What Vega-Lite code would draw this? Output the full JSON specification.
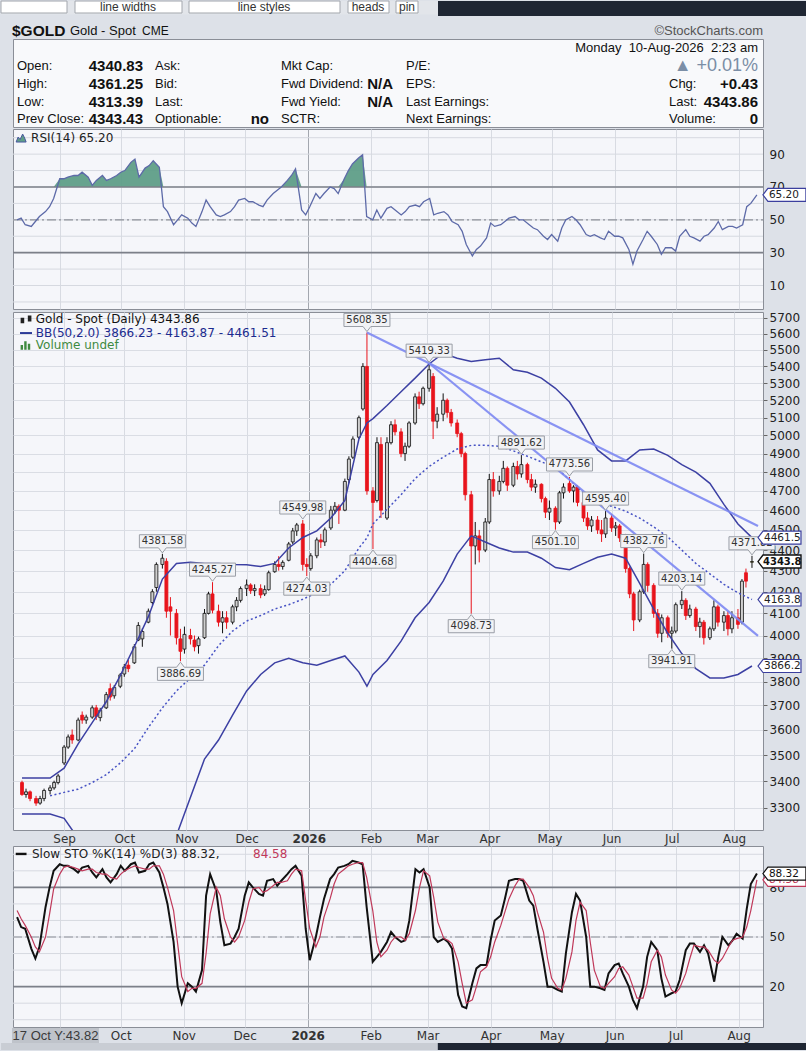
{
  "$schema": "https://vega.github.io/schema/vega-lite/v6.json",
  "background": "#dde1e8",
  "padding": 0,
  "spacing": 0,
  "config": {
    "view": {"stroke": "#8a8e97", "fill": "#f5f6fa", "strokeWidth": 1},
    "axis": {"labelFont": "DejaVu Sans", "labelFontSize": 12, "labelColor": "#222", "domain": false, "ticks": false, "gridColor": "#dadde4", "title": null},
    "text": {"font": "DejaVu Sans"}
  },
  "datasets": {
    "tool": [
      {"col": 0, "col2": 24, "row": -2.55, "row2": -1.8, "k": "strip"},
      {"col": 24, "col2": 28, "row": -2.55, "row2": -1.72, "k": "dark"},
      {"col": 0, "col2": 3, "row": -2.55, "row2": -1.885, "k": "box"},
      {"col": 5, "col2": 10, "row": -2.55, "row2": -1.885, "k": "box"},
      {"col": 11, "col2": 15, "row": -2.55, "row2": -1.885, "k": "box"},
      {"col": 16, "col2": 18, "row": -2.55, "row2": -1.885, "k": "box"},
      {"col": 20, "col2": 23, "row": -2.55, "row2": -1.885, "k": "box"}
    ],
    "hdr": [
      {"col": 6, "row": -2.22, "t": "line widths", "k": "tool"},
      {"col": 12, "row": -2.22, "t": "line styles", "k": "tool"},
      {"col": 17, "row": -2.22, "t": "heads", "k": "tool"},
      {"col": 22, "row": -2.22, "t": "pin", "k": "tool"},
      {"col": 1, "row": -0.86, "t": "$GOLD", "k": "sym"},
      {"col": 4, "row": -0.86, "t": "Gold - Spot", "k": "name"},
      {"col": 7, "row": -0.86, "t": "CME", "k": "exch"},
      {"col": 27, "row": -0.86, "t": "©StockCharts.com", "k": "brand"},
      {"col": 26, "row": 0.05, "t": "Monday\u00a0 10-Aug-2026\u00a0 2:23 am", "k": "date"},
      {"col": 26, "row": 1.05, "t": "▲ +0.01%", "k": "pct"},
      {"col": 2, "row": 1.05, "t": "Open:", "k": "lab"},
      {"col": 8, "row": 1.05, "t": "4340.83", "k": "val"},
      {"col": 9, "row": 1.05, "t": "Ask:", "k": "lab"},
      {"col": 14, "row": 1.05, "t": "Mkt Cap:", "k": "lab"},
      {"col": 21, "row": 1.05, "t": "P/E:", "k": "lab"},
      {"col": 2, "row": 2.05, "t": "High:", "k": "lab"},
      {"col": 8, "row": 2.05, "t": "4361.25", "k": "val"},
      {"col": 9, "row": 2.05, "t": "Bid:", "k": "lab"},
      {"col": 14, "row": 2.05, "t": "Fwd Dividend:", "k": "lab"},
      {"col": 19, "row": 2.05, "t": "N/A", "k": "val"},
      {"col": 21, "row": 2.05, "t": "EPS:", "k": "lab"},
      {"col": 25, "row": 2.05, "t": "Chg:", "k": "lab"},
      {"col": 26, "row": 2.05, "t": "+0.43", "k": "val"},
      {"col": 2, "row": 3.05, "t": "Low:", "k": "lab"},
      {"col": 8, "row": 3.05, "t": "4313.39", "k": "val"},
      {"col": 9, "row": 3.05, "t": "Last:", "k": "lab"},
      {"col": 14, "row": 3.05, "t": "Fwd Yield:", "k": "lab"},
      {"col": 19, "row": 3.05, "t": "N/A", "k": "val"},
      {"col": 21, "row": 3.05, "t": "Last Earnings:", "k": "lab"},
      {"col": 25, "row": 3.05, "t": "Last:", "k": "lab"},
      {"col": 26, "row": 3.05, "t": "4343.86", "k": "val"},
      {"col": 2, "row": 4.0, "t": "Prev Close:", "k": "lab"},
      {"col": 8, "row": 4.0, "t": "4343.43", "k": "val"},
      {"col": 9, "row": 4.0, "t": "Optionable:", "k": "lab"},
      {"col": 13, "row": 4.0, "t": "no", "k": "val"},
      {"col": 14, "row": 4.0, "t": "SCTR:", "k": "lab"},
      {"col": 21, "row": 4.0, "t": "Next Earnings:", "k": "lab"},
      {"col": 25, "row": 4.0, "t": "Volume:", "k": "lab"},
      {"col": 26, "row": 4.0, "t": "0", "k": "val"}
    ],
    "grid": [{"v": 0}, {"v": 10}, {"v": 20}, {"v": 30}, {"v": 40}, {"v": 50}, {"v": 60}, {"v": 70}, {"v": 80}, {"v": 90}, {"v": 100}],
    "lvR": [{"v": 70}, {"v": 30}],
    "lvS": [{"v": 80}, {"v": 20}],
    "mid": [{"v": 50}],
    "legM": [
      {"v": 5693, "t": "Gold - Spot (Daily) 4343.86", "g": "p"},
      {"v": 5605, "t": "BB(50,2.0) 3866.23 - 4163.87 - 4461.51", "g": "b"},
      {"v": 5531, "t": "Volume undef", "g": "v"}
    ],
    "legR": [{"v": 99.8, "t": "RSI(14) 65.20"}],
    "legS": [
      {"v": 100.2, "t": "Slow STO %K(14) %D(3) 88.32,", "g": "k"},
      {"v": 100.2, "t": "84.58", "g": "d"}
    ],
    "rd": [{"a": -5.0, "b": -14.07, "v": -9.6, "t": "17 Oct Y:43.82"}],
    "bot": [{"a": -14.1, "b": -18.3}],
    "px": [
      {"d":"2025-08-11","o":3395,"h":3402,"l":3345,"c":3350,"r":50,"ra":70,"k":62,"sd":66},
      {"d":"2025-08-13","o":3350,"h":3372,"l":3338,"c":3360,"r":51,"ra":70,"k":56,"sd":61},
      {"d":"2025-08-15","o":3360,"h":3365,"l":3325,"c":3335,"r":47,"ra":70,"k":55,"sd":57},
      {"d":"2025-08-18","o":3335,"h":3345,"l":3308,"c":3318,"r":46,"ra":70,"k":43,"sd":50},
      {"d":"2025-08-20","o":3318,"h":3345,"l":3312,"c":3335,"r":49,"ra":70,"k":37,"sd":44},
      {"d":"2025-08-22","o":3335,"h":3372,"l":3325,"c":3365,"r":52,"ra":70,"k":44,"sd":41},
      {"d":"2025-08-25","o":3365,"h":3385,"l":3350,"c":3375,"r":55,"ra":70,"k":68,"sd":50},
      {"d":"2025-08-27","o":3375,"h":3402,"l":3368,"c":3395,"r":58,"ra":70,"k":80,"sd":64},
      {"d":"2025-08-29","o":3395,"h":3428,"l":3388,"c":3420,"r":63,"ra":70,"k":90,"sd":79},
      {"d":"2025-09-01","o":3470,"h":3540,"l":3462,"c":3532,"r":75,"ra":75,"k":94,"sd":88},
      {"d":"2025-09-03","o":3532,"h":3582,"l":3525,"c":3572,"r":75,"ra":75,"k":93,"sd":92},
      {"d":"2025-09-05","o":3580,"h":3602,"l":3545,"c":3560,"r":76,"ra":76,"k":93,"sd":93},
      {"d":"2025-09-08","o":3560,"h":3650,"l":3555,"c":3640,"r":77,"ra":77,"k":91,"sd":92},
      {"d":"2025-09-10","o":3660,"h":3675,"l":3625,"c":3640,"r":77,"ra":77,"k":89,"sd":91},
      {"d":"2025-09-12","o":3640,"h":3662,"l":3625,"c":3652,"r":79,"ra":79,"k":92,"sd":90},
      {"d":"2025-09-15","o":3652,"h":3700,"l":3645,"c":3690,"r":76,"ra":76,"k":93,"sd":91},
      {"d":"2025-09-17","o":3690,"h":3702,"l":3640,"c":3655,"r":71,"ra":71,"k":89,"sd":91},
      {"d":"2025-09-19","o":3650,"h":3690,"l":3635,"c":3680,"r":74,"ra":74,"k":86,"sd":89},
      {"d":"2025-09-22","o":3690,"h":3756,"l":3685,"c":3745,"r":77,"ra":77,"k":91,"sd":88},
      {"d":"2025-09-24","o":3770,"h":3792,"l":3720,"c":3735,"r":74,"ra":74,"k":86,"sd":88},
      {"d":"2025-09-26","o":3740,"h":3785,"l":3728,"c":3775,"r":75,"ra":75,"k":83,"sd":86},
      {"d":"2025-09-29","o":3780,"h":3836,"l":3772,"c":3828,"r":77,"ra":77,"k":88,"sd":85},
      {"d":"2025-10-01","o":3832,"h":3875,"l":3820,"c":3862,"r":79,"ra":79,"k":93,"sd":88},
      {"d":"2025-10-03","o":3870,"h":3892,"l":3840,"c":3855,"r":80,"ra":80,"k":90,"sd":90},
      {"d":"2025-10-06","o":3880,"h":3962,"l":3875,"c":3950,"r":85,"ra":85,"k":94,"sd":92},
      {"d":"2025-10-08","o":3980,"h":4060,"l":3975,"c":4045,"r":87,"ra":87,"k":95,"sd":93},
      {"d":"2025-10-10","o":3985,"h":4032,"l":3950,"c":4018,"r":76,"ra":76,"k":89,"sd":92},
      {"d":"2025-10-13","o":4060,"h":4122,"l":4055,"c":4110,"r":81.5,"ra":81.5,"k":90,"sd":91},
      {"d":"2025-10-15","o":4150,"h":4212,"l":4140,"c":4200,"r":83,"ra":83,"k":94,"sd":91},
      {"d":"2025-10-17","o":4220,"h":4340,"l":4200,"c":4330,"r":86,"ra":86,"k":95,"sd":93},
      {"d":"2025-10-20","o":4330,"h":4381.58,"l":4310,"c":4360,"r":82,"ra":82,"k":89,"sd":93},
      {"d":"2025-10-22","o":4345,"h":4360,"l":4080,"c":4110,"r":58,"ra":70,"k":80,"sd":88},
      {"d":"2025-10-24","o":4130,"h":4175,"l":4000,"c":4110,"r":55,"ra":70,"k":70,"sd":80},
      {"d":"2025-10-27","o":4100,"h":4120,"l":3960,"c":3990,"r":47,"ra":70,"k":47,"sd":66},
      {"d":"2025-10-29","o":3985,"h":4030,"l":3886.69,"c":3930,"r":50,"ra":70,"k":20,"sd":46},
      {"d":"2025-10-31","o":3940,"h":4040,"l":3920,"c":4005,"r":53,"ra":70,"k":10,"sd":26},
      {"d":"2025-11-03","o":4000,"h":4030,"l":3960,"c":3985,"r":51,"ra":70,"k":22,"sd":17},
      {"d":"2025-11-05","o":3980,"h":4000,"l":3930,"c":3950,"r":48,"ra":70,"k":20,"sd":19},
      {"d":"2025-11-07","o":3955,"h":3995,"l":3920,"c":3985,"r":46,"ra":70,"k":17,"sd":19},
      {"d":"2025-11-10","o":3990,"h":4120,"l":3985,"c":4100,"r":55,"ra":70,"k":30,"sd":22},
      {"d":"2025-11-12","o":4100,"h":4200,"l":4095,"c":4190,"r":62,"ra":70,"k":75,"sd":40},
      {"d":"2025-11-14","o":4190,"h":4245.27,"l":4100,"c":4115,"r":58,"ra":70,"k":88,"sd":64},
      {"d":"2025-11-17","o":4110,"h":4140,"l":4040,"c":4060,"r":53,"ra":70,"k":78,"sd":80},
      {"d":"2025-11-19","o":4060,"h":4110,"l":4010,"c":4080,"r":52,"ra":70,"k":59,"sd":75},
      {"d":"2025-11-21","o":4080,"h":4110,"l":4030,"c":4060,"r":53,"ra":70,"k":45,"sd":61},
      {"d":"2025-11-24","o":4060,"h":4140,"l":4050,"c":4130,"r":55,"ra":70,"k":46,"sd":50},
      {"d":"2025-11-26","o":4130,"h":4175,"l":4110,"c":4160,"r":58,"ra":70,"k":50,"sd":47},
      {"d":"2025-11-28","o":4160,"h":4225,"l":4150,"c":4215,"r":62,"ra":70,"k":55,"sd":50},
      {"d":"2025-12-01","o":4215,"h":4258,"l":4180,"c":4232,"r":63,"ra":70,"k":75,"sd":60},
      {"d":"2025-12-03","o":4232,"h":4240,"l":4190,"c":4205,"r":61,"ra":70,"k":83,"sd":71},
      {"d":"2025-12-05","o":4205,"h":4235,"l":4180,"c":4215,"r":61,"ra":70,"k":80,"sd":79},
      {"d":"2025-12-08","o":4215,"h":4235,"l":4170,"c":4185,"r":59,"ra":70,"k":76,"sd":80},
      {"d":"2025-12-10","o":4190,"h":4230,"l":4180,"c":4210,"r":58,"ra":70,"k":75,"sd":77},
      {"d":"2025-12-12","o":4210,"h":4300,"l":4205,"c":4290,"r":62,"ra":70,"k":84,"sd":78},
      {"d":"2025-12-15","o":4295,"h":4345,"l":4290,"c":4330,"r":66,"ra":70,"k":85,"sd":81},
      {"d":"2025-12-17","o":4330,"h":4370,"l":4300,"c":4320,"r":68,"ra":70,"k":81,"sd":83},
      {"d":"2025-12-19","o":4320,"h":4350,"l":4305,"c":4340,"r":70,"ra":70,"k":84,"sd":83},
      {"d":"2025-12-22","o":4350,"h":4440,"l":4345,"c":4430,"r":74,"ra":74,"k":88,"sd":84},
      {"d":"2025-12-24","o":4440,"h":4510,"l":4430,"c":4495,"r":77,"ra":77,"k":91,"sd":88},
      {"d":"2025-12-26","o":4495,"h":4535,"l":4470,"c":4525,"r":81,"ra":81,"k":93,"sd":91},
      {"d":"2025-12-29","o":4530,"h":4549.98,"l":4300,"c":4330,"r":56,"ra":70,"k":87,"sd":90},
      {"d":"2025-12-31","o":4330,"h":4360,"l":4274.03,"c":4320,"r":53,"ra":70,"k":55,"sd":72},
      {"d":"2026-01-02","o":4310,"h":4385,"l":4300,"c":4372,"r":58,"ra":70,"k":36,"sd":55},
      {"d":"2026-01-05","o":4372,"h":4462,"l":4360,"c":4450,"r":66,"ra":70,"k":50,"sd":44},
      {"d":"2026-01-07","o":4450,"h":4480,"l":4410,"c":4440,"r":63,"ra":70,"k":62,"sd":50},
      {"d":"2026-01-09","o":4440,"h":4512,"l":4420,"c":4500,"r":66,"ra":70,"k":73,"sd":62},
      {"d":"2026-01-12","o":4510,"h":4622,"l":4500,"c":4600,"r":70,"ra":70,"k":85,"sd":73},
      {"d":"2026-01-14","o":4600,"h":4642,"l":4580,"c":4620,"r":69,"ra":70,"k":88,"sd":82},
      {"d":"2026-01-16","o":4620,"h":4630,"l":4530,"c":4600,"r":66,"ra":70,"k":92,"sd":88},
      {"d":"2026-01-19","o":4600,"h":4765,"l":4595,"c":4750,"r":75,"ra":75,"k":93,"sd":91},
      {"d":"2026-01-21","o":4760,"h":4885,"l":4740,"c":4870,"r":80,"ra":80,"k":94,"sd":93},
      {"d":"2026-01-23","o":4880,"h":4995,"l":4870,"c":4980,"r":84,"ra":84,"k":96,"sd":94},
      {"d":"2026-01-26","o":4990,"h":5112,"l":4980,"c":5100,"r":87.6,"ra":87.6,"k":95,"sd":95},
      {"d":"2026-01-28","o":5150,"h":5420,"l":5140,"c":5400,"r":89.6,"ra":89.6,"k":94,"sd":95},
      {"d":"2026-01-30","o":5400,"h":5608.35,"l":4680,"c":4700,"r":52,"ra":70,"k":68,"sd":86},
      {"d":"2026-02-02","o":4700,"h":4720,"l":4404.68,"c":4640,"r":50,"ra":70,"k":35,"sd":66},
      {"d":"2026-02-04","o":4650,"h":4990,"l":4640,"c":4960,"r":56,"ra":70,"k":38,"sd":47},
      {"d":"2026-02-06","o":4950,"h":4990,"l":4560,"c":4600,"r":51,"ra":70,"k":41,"sd":38},
      {"d":"2026-02-09","o":4560,"h":4990,"l":4550,"c":4960,"r":57,"ra":70,"k":47,"sd":42},
      {"d":"2026-02-11","o":4960,"h":5080,"l":4950,"c":5060,"r":58,"ra":70,"k":53,"sd":47},
      {"d":"2026-02-13","o":5060,"h":5090,"l":5000,"c":5020,"r":56,"ra":70,"k":50,"sd":50},
      {"d":"2026-02-16","o":5020,"h":5040,"l":4880,"c":4900,"r":53,"ra":70,"k":47,"sd":50},
      {"d":"2026-02-18","o":4900,"h":4960,"l":4860,"c":4940,"r":55,"ra":70,"k":48,"sd":48},
      {"d":"2026-02-20","o":4940,"h":5080,"l":4930,"c":5070,"r":58,"ra":70,"k":60,"sd":52},
      {"d":"2026-02-23","o":5070,"h":5240,"l":5060,"c":5220,"r":59,"ra":70,"k":91,"sd":66},
      {"d":"2026-02-25","o":5220,"h":5250,"l":5150,"c":5180,"r":58,"ra":70,"k":89,"sd":80},
      {"d":"2026-02-27","o":5180,"h":5280,"l":5170,"c":5270,"r":61,"ra":70,"k":91,"sd":90},
      {"d":"2026-03-02","o":5270,"h":5419.33,"l":5250,"c":5380,"r":63,"ra":70,"k":80,"sd":87},
      {"d":"2026-03-04","o":5340,"h":5360,"l":4980,"c":5080,"r":53,"ra":70,"k":50,"sd":74},
      {"d":"2026-03-06","o":5080,"h":5160,"l":5040,"c":5120,"r":54,"ra":70,"k":47,"sd":59},
      {"d":"2026-03-09","o":5120,"h":5240,"l":5080,"c":5200,"r":55,"ra":70,"k":49,"sd":49},
      {"d":"2026-03-11","o":5200,"h":5210,"l":5100,"c":5130,"r":53,"ra":70,"k":47,"sd":48},
      {"d":"2026-03-13","o":5130,"h":5150,"l":5050,"c":5070,"r":49,"ra":70,"k":43,"sd":46},
      {"d":"2026-03-16","o":5070,"h":5090,"l":4990,"c":5010,"r":47,"ra":70,"k":15,"sd":35},
      {"d":"2026-03-18","o":5010,"h":5020,"l":4880,"c":4900,"r":43,"ra":70,"k":8,"sd":22},
      {"d":"2026-03-20","o":4900,"h":4910,"l":4650,"c":4680,"r":35,"ra":70,"k":7,"sd":10},
      {"d":"2026-03-23","o":4680,"h":4700,"l":4098.73,"c":4420,"r":28,"ra":70,"k":22,"sd":12},
      {"d":"2026-03-25","o":4420,"h":4540,"l":4330,"c":4470,"r":32,"ra":70,"k":31,"sd":20},
      {"d":"2026-03-27","o":4470,"h":4500,"l":4340,"c":4400,"r":34,"ra":70,"k":33,"sd":29},
      {"d":"2026-03-30","o":4400,"h":4560,"l":4390,"c":4540,"r":39,"ra":70,"k":33,"sd":32},
      {"d":"2026-04-01","o":4540,"h":4790,"l":4530,"c":4760,"r":48,"ra":70,"k":48,"sd":38},
      {"d":"2026-04-03","o":4760,"h":4800,"l":4670,"c":4700,"r":46,"ra":70,"k":60,"sd":47},
      {"d":"2026-04-06","o":4700,"h":4780,"l":4680,"c":4750,"r":47,"ra":70,"k":63,"sd":57},
      {"d":"2026-04-08","o":4750,"h":4860,"l":4740,"c":4820,"r":49,"ra":70,"k":73,"sd":65},
      {"d":"2026-04-10","o":4820,"h":4830,"l":4700,"c":4730,"r":51,"ra":70,"k":84,"sd":73},
      {"d":"2026-04-13","o":4730,"h":4850,"l":4720,"c":4830,"r":52,"ra":70,"k":85,"sd":81},
      {"d":"2026-04-15","o":4830,"h":4860,"l":4760,"c":4790,"r":50,"ra":70,"k":85,"sd":85},
      {"d":"2026-04-17","o":4790,"h":4891.62,"l":4770,"c":4840,"r":50,"ra":70,"k":84,"sd":85},
      {"d":"2026-04-20","o":4840,"h":4850,"l":4740,"c":4760,"r":47,"ra":70,"k":72,"sd":80},
      {"d":"2026-04-22","o":4760,"h":4790,"l":4700,"c":4720,"r":45,"ra":70,"k":69,"sd":75},
      {"d":"2026-04-24","o":4720,"h":4760,"l":4690,"c":4735,"r":44,"ra":70,"k":55,"sd":65},
      {"d":"2026-04-27","o":4735,"h":4740,"l":4640,"c":4660,"r":40,"ra":70,"k":35,"sd":53},
      {"d":"2026-04-29","o":4660,"h":4670,"l":4560,"c":4590,"r":38,"ra":70,"k":20,"sd":37},
      {"d":"2026-05-01","o":4590,"h":4650,"l":4550,"c":4610,"r":41,"ra":70,"k":20,"sd":25},
      {"d":"2026-05-04","o":4610,"h":4620,"l":4501.10,"c":4540,"r":37,"ra":70,"k":18,"sd":19},
      {"d":"2026-05-06","o":4540,"h":4700,"l":4530,"c":4690,"r":45,"ra":70,"k":17,"sd":18},
      {"d":"2026-05-08","o":4690,"h":4740,"l":4660,"c":4720,"r":50,"ra":70,"k":40,"sd":25},
      {"d":"2026-05-11","o":4740,"h":4773.56,"l":4690,"c":4700,"r":52,"ra":70,"k":65,"sd":41},
      {"d":"2026-05-13","o":4700,"h":4730,"l":4640,"c":4720,"r":50,"ra":70,"k":76,"sd":60},
      {"d":"2026-05-15","o":4720,"h":4730,"l":4620,"c":4640,"r":47,"ra":70,"k":72,"sd":71},
      {"d":"2026-05-18","o":4640,"h":4660,"l":4540,"c":4560,"r":41,"ra":70,"k":50,"sd":66},
      {"d":"2026-05-20","o":4560,"h":4590,"l":4500,"c":4520,"r":40,"ra":70,"k":20,"sd":47},
      {"d":"2026-05-22","o":4520,"h":4570,"l":4490,"c":4550,"r":41,"ra":70,"k":20,"sd":30},
      {"d":"2026-05-25","o":4550,"h":4570,"l":4480,"c":4500,"r":39,"ra":70,"k":19,"sd":20},
      {"d":"2026-05-27","o":4500,"h":4550,"l":4440,"c":4480,"r":38,"ra":70,"k":18,"sd":19},
      {"d":"2026-05-29","o":4480,"h":4595.40,"l":4460,"c":4560,"r":43,"ra":70,"k":28,"sd":22},
      {"d":"2026-06-01","o":4560,"h":4580,"l":4490,"c":4510,"r":40,"ra":70,"k":33,"sd":26},
      {"d":"2026-06-03","o":4510,"h":4540,"l":4470,"c":4520,"r":40,"ra":70,"k":34,"sd":31},
      {"d":"2026-06-05","o":4520,"h":4530,"l":4440,"c":4460,"r":39,"ra":70,"k":28,"sd":32},
      {"d":"2026-06-08","o":4460,"h":4480,"l":4290,"c":4310,"r":32,"ra":70,"k":20,"sd":27},
      {"d":"2026-06-10","o":4310,"h":4320,"l":4170,"c":4190,"r":23,"ra":70,"k":12,"sd":20},
      {"d":"2026-06-12","o":4190,"h":4200,"l":4020,"c":4070,"r":31,"ra":70,"k":7,"sd":13},
      {"d":"2026-06-15","o":4070,"h":4210,"l":4060,"c":4200,"r":38,"ra":70,"k":20,"sd":13},
      {"d":"2026-06-17","o":4200,"h":4382.76,"l":4190,"c":4330,"r":43,"ra":70,"k":38,"sd":22},
      {"d":"2026-06-19","o":4330,"h":4340,"l":4200,"c":4230,"r":40,"ra":70,"k":47,"sd":35},
      {"d":"2026-06-22","o":4230,"h":4240,"l":4080,"c":4100,"r":35,"ra":70,"k":42,"sd":42},
      {"d":"2026-06-24","o":4100,"h":4120,"l":3990,"c":4010,"r":29,"ra":70,"k":25,"sd":38},
      {"d":"2026-06-26","o":4010,"h":4095,"l":3970,"c":4080,"r":33,"ra":70,"k":14,"sd":27},
      {"d":"2026-06-29","o":4080,"h":4090,"l":3990,"c":4010,"r":33,"ra":70,"k":16,"sd":18},
      {"d":"2026-07-01","o":4010,"h":4040,"l":3941.91,"c":4020,"r":31,"ra":70,"k":17,"sd":16},
      {"d":"2026-07-03","o":4020,"h":4150,"l":4010,"c":4140,"r":40,"ra":70,"k":24,"sd":19},
      {"d":"2026-07-06","o":4140,"h":4203.14,"l":4120,"c":4160,"r":44,"ra":70,"k":42,"sd":28},
      {"d":"2026-07-08","o":4160,"h":4170,"l":4070,"c":4090,"r":40,"ra":70,"k":46,"sd":37},
      {"d":"2026-07-10","o":4090,"h":4140,"l":4080,"c":4120,"r":39,"ra":70,"k":46,"sd":45},
      {"d":"2026-07-13","o":4120,"h":4130,"l":4020,"c":4040,"r":37,"ra":70,"k":41,"sd":44},
      {"d":"2026-07-15","o":4040,"h":4080,"l":3990,"c":4060,"r":40,"ra":70,"k":45,"sd":44},
      {"d":"2026-07-17","o":4060,"h":4070,"l":3960,"c":3990,"r":41,"ra":70,"k":40,"sd":42},
      {"d":"2026-07-20","o":3990,"h":4040,"l":3980,"c":4030,"r":45,"ra":70,"k":23,"sd":36},
      {"d":"2026-07-22","o":4030,"h":4160,"l":4020,"c":4130,"r":49,"ra":70,"k":38,"sd":34},
      {"d":"2026-07-24","o":4130,"h":4140,"l":4040,"c":4060,"r":44,"ra":70,"k":50,"sd":37},
      {"d":"2026-07-27","o":4060,"h":4110,"l":4020,"c":4090,"r":46,"ra":70,"k":45,"sd":44},
      {"d":"2026-07-29","o":4090,"h":4110,"l":4000,"c":4030,"r":46,"ra":70,"k":48,"sd":48},
      {"d":"2026-07-31","o":4030,"h":4110,"l":4010,"c":4080,"r":45,"ra":70,"k":52,"sd":49},
      {"d":"2026-08-03","o":4080,"h":4120,"l":4030,"c":4050,"r":47,"ra":70,"k":49,"sd":50},
      {"d":"2026-08-05","o":4060,"h":4260,"l":4050,"c":4250,"r":58,"ra":70,"k":67,"sd":56},
      {"d":"2026-08-07","o":4290,"h":4310,"l":4220,"c":4250,"r":60,"ra":70,"k":82,"sd":66},
      {"d":"2026-08-10","o":4340.83,"h":4371.82,"l":4313.39,"c":4343.86,"r":65.2,"ra":70,"k":88.32,"sd":84.58}
    ],
    "bb": [
      {"d":"2025-08-11","u":3412,"m":null,"lo":3278},
      {"d":"2025-08-18","u":3412,"m":null,"lo":3278},
      {"d":"2025-08-25","u":3412,"m":3345,"lo":3278},
      {"d":"2025-09-01","u":3450,"m":3358,"lo":3262},
      {"d":"2025-09-08","u":3545,"m":3370,"lo":3190},
      {"d":"2025-09-15","u":3630,"m":3395,"lo":3110},
      {"d":"2025-09-22","u":3715,"m":3425,"lo":3050},
      {"d":"2025-09-29","u":3825,"m":3470,"lo":3000},
      {"d":"2025-10-06","u":3950,"m":3525,"lo":2990},
      {"d":"2025-10-13","u":4085,"m":3610,"lo":3000},
      {"d":"2025-10-20","u":4260,"m":3690,"lo":3080},
      {"d":"2025-10-27","u":4335,"m":3760,"lo":3200},
      {"d":"2025-11-03","u":4340,"m":3815,"lo":3340},
      {"d":"2025-11-10","u":4335,"m":3870,"lo":3485},
      {"d":"2025-11-17","u":4335,"m":3955,"lo":3560},
      {"d":"2025-11-24","u":4330,"m":4020,"lo":3660},
      {"d":"2025-12-01","u":4328,"m":4065,"lo":3760},
      {"d":"2025-12-08","u":4320,"m":4090,"lo":3830},
      {"d":"2025-12-15","u":4335,"m":4120,"lo":3880},
      {"d":"2025-12-22","u":4410,"m":4140,"lo":3900},
      {"d":"2025-12-29","u":4462,"m":4165,"lo":3880},
      {"d":"2026-01-05","u":4495,"m":4195,"lo":3870},
      {"d":"2026-01-12","u":4560,"m":4235,"lo":3890},
      {"d":"2026-01-19","u":4650,"m":4300,"lo":3910},
      {"d":"2026-01-26","u":4980,"m":4410,"lo":3840},
      {"d":"2026-01-30","u":5070,"m":4460,"lo":3780},
      {"d":"2026-02-02","u":5095,"m":4530,"lo":3830},
      {"d":"2026-02-09","u":5170,"m":4605,"lo":3890},
      {"d":"2026-02-16","u":5250,"m":4680,"lo":3975},
      {"d":"2026-02-23","u":5330,"m":4765,"lo":4080},
      {"d":"2026-03-02","u":5415,"m":4830,"lo":4150},
      {"d":"2026-03-09","u":5480,"m":4880,"lo":4250},
      {"d":"2026-03-16","u":5450,"m":4925,"lo":4380},
      {"d":"2026-03-23","u":5430,"m":4945,"lo":4470},
      {"d":"2026-03-30","u":5440,"m":4945,"lo":4440},
      {"d":"2026-04-06","u":5450,"m":4940,"lo":4410},
      {"d":"2026-04-13","u":5380,"m":4915,"lo":4390},
      {"d":"2026-04-20","u":5365,"m":4885,"lo":4390},
      {"d":"2026-04-27","u":5330,"m":4855,"lo":4360},
      {"d":"2026-05-04","u":5270,"m":4825,"lo":4315},
      {"d":"2026-05-11","u":5190,"m":4760,"lo":4305},
      {"d":"2026-05-18","u":5060,"m":4690,"lo":4335},
      {"d":"2026-05-25","u":4920,"m":4645,"lo":4365},
      {"d":"2026-06-01","u":4860,"m":4620,"lo":4380},
      {"d":"2026-06-08","u":4860,"m":4595,"lo":4360},
      {"d":"2026-06-15","u":4920,"m":4560,"lo":4240},
      {"d":"2026-06-22","u":4925,"m":4515,"lo":4120},
      {"d":"2026-06-29","u":4890,"m":4465,"lo":4010},
      {"d":"2026-07-06","u":4840,"m":4400,"lo":3920},
      {"d":"2026-07-13","u":4800,"m":4335,"lo":3855},
      {"d":"2026-07-20","u":4740,"m":4285,"lo":3815},
      {"d":"2026-07-27","u":4630,"m":4235,"lo":3815},
      {"d":"2026-08-03","u":4530,"m":4195,"lo":3830},
      {"d":"2026-08-10","u":4461.51,"m":4163.87,"lo":3866.23}
    ],
    "tl": [
      {"g":"a","d":"2026-01-30","v":5608.35},
      {"g":"a","d":"2026-08-13","v":4520},
      {"g":"b","d":"2026-03-02","v":5419.33},
      {"g":"b","d":"2026-08-13","v":3998}
    ],
    "ann": [
      {"d":"2025-10-20","v":4381.58,"t":"4381.58","p":"hi"},
      {"d":"2025-11-14","v":4245.27,"t":"4245.27","p":"hi"},
      {"d":"2025-12-29","v":4549.98,"t":"4549.98","p":"hi"},
      {"d":"2026-01-30","v":5608.35,"t":"5608.35","p":"hi"},
      {"d":"2026-03-02","v":5419.33,"t":"5419.33","p":"hi"},
      {"d":"2026-04-17","v":4891.62,"t":"4891.62","p":"hi"},
      {"d":"2026-05-11","v":4773.56,"t":"4773.56","p":"hi"},
      {"d":"2026-05-29","v":4595.40,"t":"4595.40","p":"hi"},
      {"d":"2026-06-17","v":4382.76,"t":"4382.76","p":"hi"},
      {"d":"2026-07-06","v":4203.14,"t":"4203.14","p":"hi"},
      {"d":"2026-08-10","v":4371.82,"t":"4371.82","p":"hi"},
      {"d":"2025-10-29","v":3886.69,"t":"3886.69","p":"lo"},
      {"d":"2025-12-31","v":4274.03,"t":"4274.03","p":"lo"},
      {"d":"2026-02-02","v":4404.68,"t":"4404.68","p":"lo"},
      {"d":"2026-03-23","v":4098.73,"t":"4098.73","p":"lo"},
      {"d":"2026-05-04","v":4501.10,"t":"4501.10","p":"lo"},
      {"d":"2026-07-01","v":3941.91,"t":"3941.91","p":"lo"}
    ]
  },
  "vconcat": [
    {
      "width": 750,
      "height": 88,
      "view": {"fill": "#f8f9fb", "stroke": "#8a8e97"},
      "encoding": {
        "x": {"field": "col", "type": "quantitative", "axis": null,
              "scale": {"domain": [0,1,2,3,4,5,6,7,8,9,10,11,12,13,14,15,16,17,18,19,20,21,22,23,24,25,26,27,28],
                        "range": [-12,-1,4,54,57,62,115,129,130,142,169,176,251,256,268,327,335,355,376,380,383,393,394,405,425,656,745,750,794],
                        "nice": false, "zero": false}},
        "y": {"field": "row", "type": "quantitative", "axis": null,
              "scale": {"domain": [-0.44, 4.45], "reverse": true, "nice": false, "zero": false}}
      },
      "layer": [
        {"data": {"name": "tool"}, "mark": {"type": "rect", "strokeWidth": 1},
         "encoding": {"x2": {"field": "col2"}, "y2": {"field": "row2"},
           "fill": {"condition": [{"test": "datum.k=='dark'", "value": "#1f2633"}, {"test": "datum.k=='box'", "value": "#ffffff"}], "value": "#e2e5ea"},
           "stroke": {"condition": {"test": "datum.k=='box'", "value": "#a3a7ae"}, "value": "transparent"}}},
        {"data": {"name": "hdr"}, "transform": [{"filter": "datum.k=='tool'"}],
         "mark": {"type": "text", "font": "Liberation Sans", "fontSize": 12, "color": "#333", "align": "center", "baseline": "middle"},
         "encoding": {"text": {"field": "t"}}},
        {"data": {"name": "hdr"}, "transform": [{"filter": "datum.k=='lab'"}],
         "mark": {"type": "text", "font": "Liberation Sans", "fontSize": 13, "color": "#111", "align": "left", "baseline": "middle"},
         "encoding": {"text": {"field": "t"}}},
        {"data": {"name": "hdr"}, "transform": [{"filter": "datum.k=='val'"}],
         "mark": {"type": "text", "font": "Liberation Sans", "fontSize": 15, "fontWeight": "bold", "color": "#111", "align": "right", "baseline": "middle"},
         "encoding": {"text": {"field": "t"}}},
        {"data": {"name": "hdr"}, "transform": [{"filter": "datum.k=='sym'"}],
         "mark": {"type": "text", "font": "Liberation Sans", "fontSize": 15.5, "fontWeight": "bold", "color": "#111", "align": "left", "baseline": "middle"},
         "encoding": {"text": {"field": "t"}}},
        {"data": {"name": "hdr"}, "transform": [{"filter": "datum.k=='name'"}],
         "mark": {"type": "text", "font": "Liberation Sans", "fontSize": 13, "color": "#111", "align": "left", "baseline": "middle"},
         "encoding": {"text": {"field": "t"}}},
        {"data": {"name": "hdr"}, "transform": [{"filter": "datum.k=='exch'"}],
         "mark": {"type": "text", "font": "Liberation Sans", "fontSize": 12, "color": "#111", "align": "left", "baseline": "middle"},
         "encoding": {"text": {"field": "t"}}},
        {"data": {"name": "hdr"}, "transform": [{"filter": "datum.k=='brand'"}],
         "mark": {"type": "text", "font": "Liberation Sans", "fontSize": 13, "color": "#555", "align": "right", "baseline": "middle"},
         "encoding": {"text": {"field": "t"}}},
        {"data": {"name": "hdr"}, "transform": [{"filter": "datum.k=='date'"}],
         "mark": {"type": "text", "font": "Liberation Sans", "fontSize": 13, "color": "#111", "align": "right", "baseline": "middle"},
         "encoding": {"text": {"field": "t"}}},
        {"data": {"name": "hdr"}, "transform": [{"filter": "datum.k=='pct'"}],
         "mark": {"type": "text", "font": "Liberation Sans", "fontSize": 18, "color": "#7b8ea6", "align": "right", "baseline": "middle"},
         "encoding": {"text": {"field": "t"}}}
      ]
    },
    {
      "width": 750,
      "height": 180,
      "layer": [
        {"data": {"name": "grid"},
         "mark": {"type": "rule", "color": "#d6d9e0", "strokeWidth": 1},
         "encoding": {"x": {"datum": {"year": 2025, "month": 8, "date": 9, "utc": true}, "type": "temporal",
                            "scale": {"type": "utc", "domain": [{"year": 2025, "month": 8, "date": 9, "utc": true}, {"year": 2026, "month": 8, "date": 13, "utc": true}]},
                            "axis": {"grid": true, "labels": false, "tickCount": {"interval": "month", "step": 1},
                                     "gridColor": {"condition": {"test": "utcmonth(datum.value)==0", "value": "#a3a7af"}, "value": "#d8dbe2"}}},
                      "x2": {"datum": {"year": 2026, "month": 8, "date": 13, "utc": true}},
                      "y": {"field": "v", "type": "quantitative",
                            "scale": {"domain": [-4.3, 105.3], "nice": false, "zero": false},
                            "axis": {"orient": "right", "values": [10, 30, 50, 70, 90], "grid": false, "labelPadding": 6}}}},
        {"data": {"name": "px"},
         "mark": {"type": "area", "color": "#5f9e88", "opacity": 0.95},
         "encoding": {"x": {"field": "d", "type": "temporal"}, "y": {"field": "ra", "type": "quantitative"}, "y2": {"datum": 70}}},
        {"data": {"name": "lvR"},
         "mark": {"type": "rule", "color": "#7c8089", "strokeWidth": 1.6},
         "encoding": {"x": {"datum": {"year": 2025, "month": 8, "date": 9, "utc": true}, "type": "temporal"},
                      "x2": {"datum": {"year": 2026, "month": 8, "date": 13, "utc": true}},
                      "y": {"field": "v", "type": "quantitative"}}},
        {"data": {"name": "mid"},
         "mark": {"type": "rule", "color": "#8d9199", "strokeWidth": 1.2, "strokeDash": [9, 3, 2, 3]},
         "encoding": {"x": {"datum": {"year": 2025, "month": 8, "date": 9, "utc": true}, "type": "temporal"},
                      "x2": {"datum": {"year": 2026, "month": 8, "date": 13, "utc": true}},
                      "y": {"field": "v", "type": "quantitative"}}},
        {"data": {"name": "px"},
         "mark": {"type": "line", "color": "#5d6aa8", "strokeWidth": 1.3},
         "encoding": {"x": {"field": "d", "type": "temporal"}, "y": {"field": "r", "type": "quantitative"}}},
        {"data": {"name": "legR"},
         "mark": {"type": "point", "shape": "M-1,0.8L-0.6,-0.2L-0.2,0.3L0.3,-0.8L0.7,0L1,0.8Z", "size": 100, "filled": true, "fill": "#5f9e88", "stroke": "#4a58a0", "strokeWidth": 1, "opacity": 1},
         "encoding": {"x": {"datum": {"year": 2025, "month": 8, "date": 13, "utc": true}, "type": "temporal"}, "y": {"field": "v", "type": "quantitative"}}},
        {"data": {"name": "legR"},
         "mark": {"type": "text", "align": "left", "baseline": "middle", "fontSize": 12, "color": "#222"},
         "encoding": {"x": {"datum": {"year": 2025, "month": 8, "date": 17, "hours": 21, "utc": true}, "type": "temporal"}, "y": {"field": "v", "type": "quantitative"}, "text": {"field": "t"}}},
        {"data": {"name": "px"}, "transform": [{"filter": "datum.c == 4343.86"}],
         "mark": {"type": "point", "shape": "M0.6,0L1.1,-0.65H4.9V0.65H1.1Z", "size": 400, "filled": true, "fill": "#ffffff", "stroke": "#3b3f9e", "strokeWidth": 1.2, "opacity": 1},
         "encoding": {"x": {"field": "d", "type": "temporal"}, "y": {"field": "r", "type": "quantitative"}}},
        {"data": {"name": "px"}, "transform": [{"filter": "datum.c == 4343.86"}],
         "mark": {"type": "text", "align": "left", "baseline": "middle", "dx": 12, "fontSize": 10.5, "color": "#222", "limit": 40, "ellipsis": "\u200b"},
         "encoding": {"x": {"field": "d", "type": "temporal"}, "y": {"field": "r", "type": "quantitative"}, "text": {"field": "r", "format": ".2f"}}}
      ]
    },
    {
      "width": 750,
      "height": 518,
      "layer": [
        {"data": {"name": "px"},
         "mark": {"type": "rule", "strokeWidth": 1},
         "encoding": {
           "x": {"field": "d", "type": "temporal",
                 "scale": {"type": "utc", "domain": [{"year": 2025, "month": 8, "date": 9, "utc": true}, {"year": 2026, "month": 8, "date": 13, "utc": true}]},
                 "axis": {"grid": true, "labels": true, "tickCount": {"interval": "month", "step": 1},
                          "labelExpr": "utcmonth(datum.value)==0 ? utcFormat(datum.value,'%Y') : utcFormat(datum.value,'%b')",
                          "labelFontWeight": {"condition": {"test": "utcmonth(datum.value)==0", "value": "bold"}, "value": "normal"},
                          "labelPadding": 3, "labelFlush": false, "labelOverlap": false, "labelColor": "#333",
                          "gridColor": {"condition": {"test": "utcmonth(datum.value)==0", "value": "#a3a7af"}, "value": "#d8dbe2"}}},
           "y": {"field": "l", "type": "quantitative",
                 "scale": {"type": "log", "domain": [3220, 5738], "nice": false},
                 "axis": {"orient": "right", "values": [3300,3400,3500,3600,3700,3800,3900,4000,4100,4200,4300,4400,4500,4600,4700,4800,4900,5000,5100,5200,5300,5400,5500,5600,5700], "format": "d", "ticks": true, "tickSize": 4, "tickColor": "#666", "labelPadding": 2, "grid": true}},
           "y2": {"field": "h"},
           "color": {"condition": {"test": "datum.c < datum.o", "value": "#e8141c"}, "value": "#111"}}},
        {"data": {"name": "px"},
         "mark": {"type": "bar", "width": 3, "strokeWidth": 0.8},
         "encoding": {
           "x": {"field": "d", "type": "temporal"},
           "y": {"field": "o", "type": "quantitative"},
           "y2": {"field": "c"},
           "fill": {"condition": [{"test": "datum.c == 4343.86", "value": "#f2e33a"}, {"test": "datum.c < datum.o", "value": "#e8141c"}], "value": "#cfcfcf"},
           "stroke": {"condition": {"test": "datum.c < datum.o", "value": "#e8141c"}, "value": "#111"}}},
        {"data": {"name": "bb"},
         "mark": {"type": "line", "color": "#3c40a3", "strokeWidth": 1.5, "clip": true},
         "encoding": {"x": {"field": "d", "type": "temporal"}, "y": {"field": "u", "type": "quantitative"}}},
        {"data": {"name": "bb"},
         "mark": {"type": "line", "color": "#3c40a3", "strokeWidth": 1.5, "clip": true},
         "encoding": {"x": {"field": "d", "type": "temporal"}, "y": {"field": "lo", "type": "quantitative"}}},
        {"data": {"name": "bb"},
         "mark": {"type": "line", "color": "#4652c4", "strokeWidth": 1.5, "strokeDash": [2, 2.5], "clip": true},
         "encoding": {"x": {"field": "d", "type": "temporal"}, "y": {"field": "m", "type": "quantitative"}}},
        {"data": {"name": "tl"},
         "mark": {"type": "line", "color": "#7d88f2", "strokeWidth": 2.2, "opacity": 0.9},
         "encoding": {"x": {"field": "d", "type": "temporal"}, "y": {"field": "v", "type": "quantitative"}, "detail": {"field": "g"}}},
        {"data": {"name": "ann"}, "transform": [{"filter": "datum.p=='hi'"}],
         "mark": {"type": "point", "shape": "M-1,-0.83H1V-0.26H0.17L0,-0.04L-0.17,-0.26H-1Z", "size": 2116, "filled": true, "fill": "#f1f2f5", "stroke": "#9a9ea6", "strokeWidth": 1, "opacity": 1},
         "encoding": {"x": {"field": "d", "type": "temporal"}, "y": {"field": "v", "type": "quantitative"}}},
        {"data": {"name": "ann"}, "transform": [{"filter": "datum.p=='hi'"}],
         "mark": {"type": "text", "dy": -12.5, "baseline": "middle", "fontSize": 10, "color": "#333"},
         "encoding": {"x": {"field": "d", "type": "temporal"}, "y": {"field": "v", "type": "quantitative"}, "text": {"field": "t"}}},
        {"data": {"name": "ann"}, "transform": [{"filter": "datum.p=='lo'"}],
         "mark": {"type": "point", "shape": "M-1,0.83H1V0.26H0.17L0,0.04L-0.17,0.26H-1Z", "size": 2116, "filled": true, "fill": "#f1f2f5", "stroke": "#9a9ea6", "strokeWidth": 1, "opacity": 1},
         "encoding": {"x": {"field": "d", "type": "temporal"}, "y": {"field": "v", "type": "quantitative"}}},
        {"data": {"name": "ann"}, "transform": [{"filter": "datum.p=='lo'"}],
         "mark": {"type": "text", "dy": 12.5, "baseline": "middle", "fontSize": 10, "color": "#333"},
         "encoding": {"x": {"field": "d", "type": "temporal"}, "y": {"field": "v", "type": "quantitative"}, "text": {"field": "t"}}},
        {"data": {"name": "legM"}, "transform": [{"filter": "datum.g=='p'"}],
         "mark": {"type": "point", "shape": "M-0.9,-0.2H-0.3V0.7H-0.9Z M0.3,-0.6H0.9V0.4H0.3Z", "size": 144, "filled": true, "fill": "#222", "opacity": 1},
         "encoding": {"x": {"datum": {"year": 2025, "month": 8, "date": 13, "utc": true}, "type": "temporal"}, "y": {"field": "v", "type": "quantitative"}}},
        {"data": {"name": "legM"}, "transform": [{"filter": "datum.g=='b'"}],
         "mark": {"type": "point", "shape": "M-1,-0.15H1V0.15H-1Z", "size": 144, "filled": true, "fill": "#1c2b8f", "opacity": 1},
         "encoding": {"x": {"datum": {"year": 2025, "month": 8, "date": 13, "utc": true}, "type": "temporal"}, "y": {"field": "v", "type": "quantitative"}}},
        {"data": {"name": "legM"}, "transform": [{"filter": "datum.g=='v'"}],
         "mark": {"type": "point", "shape": "M-0.9,0.8V0H-0.5V0.8Z M-0.3,0.8V-0.6H0.1V0.8Z M0.3,0.8V-0.2H0.7V0.8Z", "size": 144, "filled": true, "fill": "#3f8a3f", "opacity": 1},
         "encoding": {"x": {"datum": {"year": 2025, "month": 8, "date": 13, "utc": true}, "type": "temporal"}, "y": {"field": "v", "type": "quantitative"}}},
        {"data": {"name": "legM"},
         "mark": {"type": "text", "align": "left", "baseline": "middle", "fontSize": 12},
         "encoding": {"x": {"datum": {"year": 2025, "month": 8, "date": 17, "hours": 21, "utc": true}, "type": "temporal"}, "y": {"field": "v", "type": "quantitative"}, "text": {"field": "t"},
                      "color": {"condition": [{"test": "datum.g=='b'", "value": "#1c2b8f"}, {"test": "datum.g=='v'", "value": "#3f8a3f"}], "value": "#111"}}},
        {"data": {"name": "bb"}, "transform": [{"filter": "datum.u == 4461.51"}],
         "layer": [
           {"mark": {"type": "point", "shape": "M0.6,0L1.1,-0.65H4.9V0.65H1.1Z", "size": 400, "filled": true, "fill": "#ffffff", "stroke": "#3b3f9e", "strokeWidth": 1.2, "opacity": 1},
            "encoding": {"x": {"field": "d", "type": "temporal"}, "y": {"field": "u", "type": "quantitative"}}},
           {"mark": {"type": "text", "align": "left", "baseline": "middle", "dx": 12, "fontSize": 10.5, "color": "#222", "limit": 40, "ellipsis": "\u200b"},
            "encoding": {"x": {"field": "d", "type": "temporal"}, "y": {"field": "u", "type": "quantitative"}, "text": {"field": "u", "format": ".2f"}}},
           {"mark": {"type": "point", "shape": "M0.6,0L1.1,-0.65H4.9V0.65H1.1Z", "size": 400, "filled": true, "fill": "#ffffff", "stroke": "#3b3f9e", "strokeWidth": 1.2, "opacity": 1},
            "encoding": {"x": {"field": "d", "type": "temporal"}, "y": {"field": "m", "type": "quantitative"}}},
           {"mark": {"type": "text", "align": "left", "baseline": "middle", "dx": 12, "fontSize": 10.5, "color": "#222", "limit": 40, "ellipsis": "\u200b"},
            "encoding": {"x": {"field": "d", "type": "temporal"}, "y": {"field": "m", "type": "quantitative"}, "text": {"field": "m", "format": ".2f"}}},
           {"mark": {"type": "point", "shape": "M0.6,0L1.1,-0.65H4.9V0.65H1.1Z", "size": 400, "filled": true, "fill": "#ffffff", "stroke": "#3b3f9e", "strokeWidth": 1.2, "opacity": 1},
            "encoding": {"x": {"field": "d", "type": "temporal"}, "y": {"field": "lo", "type": "quantitative"}}},
           {"mark": {"type": "text", "align": "left", "baseline": "middle", "dx": 12, "fontSize": 10.5, "color": "#222", "limit": 40, "ellipsis": "\u200b"},
            "encoding": {"x": {"field": "d", "type": "temporal"}, "y": {"field": "lo", "type": "quantitative"}, "text": {"field": "lo", "format": ".2f"}}}
         ]},
        {"data": {"name": "px"}, "transform": [{"filter": "datum.c == 4343.86"}],
         "layer": [
           {"mark": {"type": "point", "shape": "M0.6,0L1.1,-0.65H4.9V0.65H1.1Z", "size": 400, "filled": true, "fill": "#ffffff", "stroke": "#111", "strokeWidth": 1.4, "opacity": 1},
            "encoding": {"x": {"field": "d", "type": "temporal"}, "y": {"field": "c", "type": "quantitative"}}},
           {"mark": {"type": "text", "align": "left", "baseline": "middle", "dx": 11, "fontSize": 10, "fontWeight": "bold", "color": "#111", "limit": 40, "ellipsis": "\u200b"},
            "encoding": {"x": {"field": "d", "type": "temporal"}, "y": {"field": "c", "type": "quantitative"}, "text": {"field": "c", "format": ".2f"}}}
         ]}
      ]
    },
    {
      "width": 750,
      "height": 181,
      "layer": [
        {"data": {"name": "grid"},
         "mark": {"type": "rule", "color": "#d6d9e0", "strokeWidth": 1},
         "encoding": {"x": {"datum": {"year": 2025, "month": 8, "date": 9, "utc": true}, "type": "temporal",
                            "scale": {"type": "utc", "domain": [{"year": 2025, "month": 8, "date": 9, "utc": true}, {"year": 2026, "month": 8, "date": 13, "utc": true}]},
                            "axis": {"grid": true, "labels": true, "tickCount": {"interval": "month", "step": 1},
                                     "labelExpr": "utcmonth(datum.value)==8 && utcyear(datum.value)==2025 ? '' : (utcmonth(datum.value)==0 ? utcFormat(datum.value,'%Y') : utcFormat(datum.value,'%b'))",
                                     "labelFontWeight": {"condition": {"test": "utcmonth(datum.value)==0", "value": "bold"}, "value": "normal"},
                                     "labelPadding": 3, "labelFlush": false, "labelOverlap": false, "labelColor": "#333",
                                     "gridColor": {"condition": {"test": "utcmonth(datum.value)==0", "value": "#a3a7af"}, "value": "#d8dbe2"}}},
                      "x2": {"datum": {"year": 2026, "month": 8, "date": 13, "utc": true}},
                      "y": {"field": "v", "type": "quantitative",
                            "scale": {"domain": [-4.4, 105], "nice": false, "zero": false},
                            "axis": {"orient": "right", "values": [20, 50, 80], "grid": false, "labelPadding": 6}}}},
        {"data": {"name": "lvS"},
         "mark": {"type": "rule", "color": "#7c8089", "strokeWidth": 1.6},
         "encoding": {"x": {"datum": {"year": 2025, "month": 8, "date": 9, "utc": true}, "type": "temporal"},
                      "x2": {"datum": {"year": 2026, "month": 8, "date": 13, "utc": true}},
                      "y": {"field": "v", "type": "quantitative"}}},
        {"data": {"name": "mid"},
         "mark": {"type": "rule", "color": "#8d9199", "strokeWidth": 1.2, "strokeDash": [9, 3, 2, 3]},
         "encoding": {"x": {"datum": {"year": 2025, "month": 8, "date": 9, "utc": true}, "type": "temporal"},
                      "x2": {"datum": {"year": 2026, "month": 8, "date": 13, "utc": true}},
                      "y": {"field": "v", "type": "quantitative"}}},
        {"data": {"name": "px"},
         "mark": {"type": "line", "color": "#111", "strokeWidth": 2},
         "encoding": {"x": {"field": "d", "type": "temporal"}, "y": {"field": "k", "type": "quantitative"}}},
        {"data": {"name": "px"},
         "mark": {"type": "line", "color": "#c0395a", "strokeWidth": 1.2},
         "encoding": {"x": {"field": "d", "type": "temporal"}, "y": {"field": "sd", "type": "quantitative"}}},
        {"data": {"name": "legS"}, "transform": [{"filter": "datum.g=='k'"}],
         "mark": {"type": "point", "shape": "M-0.9,-0.2H0.9V0.2H-0.9Z", "size": 144, "filled": true, "fill": "#111", "opacity": 1},
         "encoding": {"x": {"datum": {"year": 2025, "month": 8, "date": 13, "utc": true}, "type": "temporal"}, "y": {"field": "v", "type": "quantitative"}}},
        {"data": {"name": "legS"}, "transform": [{"filter": "datum.g=='k'"}],
         "mark": {"type": "text", "align": "left", "baseline": "middle", "fontSize": 12, "color": "#222"},
         "encoding": {"x": {"datum": {"year": 2025, "month": 8, "date": 18, "hours": 8, "utc": true}, "type": "temporal"}, "y": {"field": "v", "type": "quantitative"}, "text": {"field": "t"}}},
        {"data": {"name": "legS"}, "transform": [{"filter": "datum.g=='d'"}],
         "mark": {"type": "text", "align": "left", "baseline": "middle", "fontSize": 12, "color": "#c0395a"},
         "encoding": {"x": {"datum": {"year": 2025, "month": 12, "date": 5, "hours": 2, "utc": true}, "type": "temporal"}, "y": {"field": "v", "type": "quantitative"}, "text": {"field": "t"}}},
        {"data": {"name": "px"}, "transform": [{"filter": "datum.c == 4343.86"}],
         "layer": [
           {"mark": {"type": "point", "shape": "M0.6,0L1.1,-0.65H4.9V0.65H1.1Z", "size": 400, "filled": true, "fill": "#ffffff", "stroke": "#c0395a", "strokeWidth": 1.2, "opacity": 1},
            "encoding": {"x": {"field": "d", "type": "temporal"}, "y": {"field": "sd", "type": "quantitative"}}},
           {"mark": {"type": "text", "align": "left", "baseline": "middle", "dx": 12, "fontSize": 10.5, "color": "#c0395a", "limit": 40, "ellipsis": "\u200b"},
            "encoding": {"x": {"field": "d", "type": "temporal"}, "y": {"field": "sd", "type": "quantitative"}, "text": {"field": "sd", "format": ".2f"}}},
           {"mark": {"type": "point", "shape": "M0.6,0L1.1,-0.65H4.9V0.65H1.1Z", "size": 400, "filled": true, "fill": "#ffffff", "stroke": "#111", "strokeWidth": 1.2, "opacity": 1},
            "encoding": {"x": {"field": "d", "type": "temporal"}, "y": {"field": "k", "type": "quantitative"}}},
           {"mark": {"type": "text", "align": "left", "baseline": "middle", "dx": 12, "fontSize": 10.5, "color": "#111", "limit": 40, "ellipsis": "\u200b"},
            "encoding": {"x": {"field": "d", "type": "temporal"}, "y": {"field": "k", "type": "quantitative"}, "text": {"field": "k", "format": ".2f"}}}
         ]},
        {"data": {"name": "rd"},
         "mark": {"type": "rect", "color": "#bfc3ca"},
         "encoding": {"x": {"datum": {"year": 2025, "month": 8, "date": 8, "hours": 12, "utc": true}, "type": "temporal"},
                      "x2": {"datum": {"year": 2025, "month": 9, "date": 20, "hours": 7, "utc": true}},
                      "y": {"field": "a", "type": "quantitative"}, "y2": {"field": "b"}}},
        {"data": {"name": "rd"},
         "mark": {"type": "text", "align": "center", "baseline": "middle", "font": "Liberation Sans", "fontSize": 13, "color": "#3a3a3a"},
         "encoding": {"x": {"datum": {"year": 2025, "month": 8, "date": 29, "hours": 22, "utc": true}, "type": "temporal"}, "y": {"field": "v", "type": "quantitative"}, "text": {"field": "t"}}},
        {"data": {"name": "bot"},
         "mark": {"type": "rect", "color": "#c9cdd4"},
         "encoding": {"x": {"datum": {"year": 2025, "month": 8, "date": 3, "hours": 3, "utc": true}, "type": "temporal"},
                      "x2": {"datum": {"year": 2026, "month": 3, "date": 6, "utc": true}},
                      "y": {"field": "a", "type": "quantitative"}, "y2": {"field": "b"}}},
        {"data": {"name": "bot"},
         "mark": {"type": "rect", "color": "#1f2633"},
         "encoding": {"x": {"datum": {"year": 2026, "month": 3, "date": 6, "utc": true}, "type": "temporal"},
                      "x2": {"datum": {"year": 2026, "month": 9, "date": 3, "hours": 15, "utc": true}},
                      "y": {"field": "a", "type": "quantitative"}, "y2": {"field": "b"}}}
      ]
    }
  ]
}
